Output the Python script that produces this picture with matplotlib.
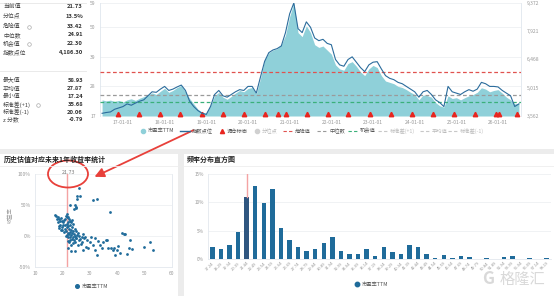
import matplotlib
matplotlib.use('Agg')
import matplotlib.pyplot as plt
from matplotlib.patches import Ellipse, FancyArrowPatch, Rectangle
from matplotlib.lines import Line2D

plt.rcParams['font.family'] = ['Noto Sans CJK SC', 'DejaVu Sans']

W, H = 554, 296

# ---------------- data ----------------
stat_labels_1 = ['当前值', '分位点', '危险值', '中位数', '机会值', '指数点位']
stat_values_1 = ['21.73', '13.5%', '33.42', '24.91', '22.30', '4,186.30']
stat_labels_2 = ['最大值', '平均值', '最小值', '标准差(+1)', '标准差(-1)', 'z 分数']
stat_values_2 = ['58.93', '27.87', '17.24', '35.68', '20.06', '-0.79']

danger_value = 33.42
median_value = 24.91
chance_value = 22.30
current_value = 21.73

years = [2016.5, 2016.6, 2016.7, 2016.8, 2016.9,
         2017.0, 2017.1, 2017.2, 2017.3, 2017.4, 2017.5, 2017.6, 2017.7, 2017.8, 2017.9,
         2018.0, 2018.1, 2018.2, 2018.3, 2018.4, 2018.5, 2018.6, 2018.7, 2018.8, 2018.9,
         2019.0, 2019.1, 2019.2, 2019.3, 2019.4, 2019.5, 2019.6, 2019.7, 2019.8, 2019.9,
         2020.0, 2020.1, 2020.2, 2020.3, 2020.4, 2020.5, 2020.6, 2020.7, 2020.8, 2020.9,
         2021.0, 2021.1, 2021.2, 2021.3, 2021.4, 2021.5, 2021.6, 2021.7, 2021.8, 2021.9,
         2022.0, 2022.1, 2022.2, 2022.3, 2022.4, 2022.5, 2022.6, 2022.7, 2022.8, 2022.9,
         2023.0, 2023.1, 2023.2, 2023.3, 2023.4, 2023.5, 2023.6, 2023.7, 2023.8, 2023.9,
         2024.0, 2024.1, 2024.2, 2024.3, 2024.4, 2024.5, 2024.6, 2024.7, 2024.8, 2024.9,
         2025.0, 2025.1, 2025.2, 2025.3, 2025.4, 2025.5, 2025.6, 2025.7, 2025.8, 2025.9,
         2026.0, 2026.1, 2026.2, 2026.3, 2026.4, 2026.5]

pe_ttm = [23.0, 22.6, 22.9, 22.4, 22.8,
          22.2, 23.0, 23.4, 22.8, 23.6, 24.2, 24.8, 25.6, 25.0, 26.2,
          27.3, 25.8, 26.5, 27.6, 28.3, 26.0, 23.5, 21.5, 19.5, 18.4,
          18.0, 21.0, 24.5, 25.8, 24.0, 23.2, 24.3, 25.5, 26.5, 26.0,
          27.2, 27.6, 25.2, 31.0, 38.0, 40.5, 41.5, 42.0, 43.5, 47.0,
          54.0, 58.93, 48.0, 46.5, 50.5, 48.0, 43.5, 42.5, 43.0, 41.5,
          40.0, 36.0, 34.5, 34.0, 36.5, 37.2, 35.5, 33.4, 32.0, 34.5,
          35.8, 35.0, 32.0, 30.0, 29.5, 29.0, 28.0, 27.6, 26.8, 25.8,
          25.0, 23.0, 24.8, 24.6, 24.0, 22.0, 20.8, 20.3, 24.5, 23.5,
          23.8, 23.0, 23.8, 24.5, 25.0, 25.8, 27.5, 27.0, 26.0, 26.5,
          26.8, 25.5, 24.0, 23.0, 21.5, 21.73]

index_level = [3700, 3742, 3770, 3908, 3977,
               4046, 4184, 4115, 4226, 4323, 4392, 4600, 4807, 4780, 4945,
               5083, 4876, 4945, 5056, 5152, 4876, 4323, 4046, 3839, 3700,
               3645, 4046, 4668, 4876, 4600, 4530, 4668, 4807, 4917, 4876,
               5083, 5083, 4738, 5568, 6375, 6820, 6958, 7027, 7166, 7849,
               8817, 9370, 8056, 7849, 8402, 8126, 7573, 7435, 7504, 7296,
               7227, 6466, 6190, 6121, 6466, 6604, 6328, 6051, 5844, 6190,
               6328, 6356, 5982, 5637, 5499, 5430, 5291, 5222, 5083, 4945,
               4807, 4530, 4807, 4876, 4668, 4392, 4254, 4046, 5083, 4807,
               4738, 4668, 4807, 4917, 4835, 4945, 5291, 5222, 5083, 5083,
               5056, 4876, 4738, 4600, 4050, 4186]

rebalance_years = [2016.88, 2017.38, 2017.88, 2018.38, 2018.9, 2019.4, 2019.9,
                   2020.41, 2020.72, 2020.91, 2021.41, 2021.92, 2022.41, 2022.92,
                   2023.43, 2023.93, 2024.43, 2024.94, 2025.44, 2025.94, 2026.02, 2026.45]

year_ticks = [2017, 2018, 2019, 2020, 2021, 2022, 2023, 2024, 2025, 2026]
year_tick_labels = ['17-01-01', '18-01-01', '19-01-01', '20-01-01', '21-01-01',
                    '22-01-01', '23-01-01', '24-01-01', '25-01-01', '26-01-01']
left_ticks = [17, 28, 39, 50, 59]
right_ticks = [3562, 5015, 6468, 7921, 9372]
right_tick_labels = ['3,562', '5,015', '6,468', '7,921', '9,372']

scatter_pe = [17.2, 17.8, 18.3, 18.0, 18.8, 19.5, 19.0, 18.5, 19.8, 20.2,
              20.5, 21.0, 21.5, 21.2, 21.8, 22.0, 22.3, 22.6, 22.0, 21.6,
              21.0, 20.4, 19.7, 19.2, 18.9, 18.6, 20.0, 20.8, 21.3, 21.8,
              22.2, 22.5, 22.8, 23.1, 23.4, 23.0, 22.7, 22.4, 22.1, 21.7,
              21.4, 22.0, 22.6, 23.2, 23.6, 23.9, 24.2, 24.5, 24.8, 23.8,
              23.4, 22.9, 24.1, 24.6, 25.0, 25.4, 25.8, 26.2, 26.6, 27.0,
              27.5, 28.0, 24.0, 23.0, 22.3, 21.9, 20.5, 19.5, 23.5, 24.0,
              24.5, 25.1, 22.2, 23.3, 24.7, 25.6, 26.8, 27.7, 28.6, 29.5,
              30.1, 31.0, 31.8, 32.0, 32.6, 33.0, 33.8, 34.5, 35.0, 35.8,
              36.2, 36.8, 37.6, 38.4, 38.9, 39.3, 39.8, 40.2, 41.0, 41.7,
              42.3, 42.9, 43.5, 44.2, 44.8, 45.4, 49.6, 51.8, 53.1, 26.0,
              27.0, 28.3, 29.0, 30.6, 25.9, 25.2, 26.5, 25.5, 31.1, 32.8,
              22.8, 24.6, 24.4, 25.0, 24.8, 37.4]
scatter_ret = [34, 32, 30, 27, 28, 29, 25, 23, 24, 22,
               26, 27, 30, 33, 36, 31, 28, 25, 22, 20,
               18, 17, 15, 18, 13, 16, 10, 12, 8, 14,
               16, 12, 18, 22, 26, 10, 6, 3, 5, 2,
               0, -2, -1, 2, 5, 8, 3, 0, -3, -2,
               -5, -6, -7, -10, -4, 2, 5, 0, -5, -2,
               3, -4, -12, -14, -10, -8, 6, 9, 15, 20,
               12, 8, -20, -24, -24, -15, -13, -23, -17, -19,
               -10, -14, -22, -4, -31, -8, -15, -19, -9, -6,
               -7, -20, -19, -22, -20, -31, -23, -16, -28, 5,
               4, 4, -29, -20, -7, -21, -18, -9, -22, -6,
               -10, -1, -6, -2, 77, 64, 64, 59, 58, 59,
               50, 50, 44, 47, 45, 39]

hist_labels = ['17.24', '18.29', '19.34', '20.39', '21.44', '22.49', '23.54', '24.59',
               '25.64', '26.69', '27.74', '28.79', '29.84', '30.89', '31.94', '32.99',
               '34.04', '35.09', '36.14', '37.19', '38.24', '39.29', '40.34', '41.39',
               '42.44', '43.49', '44.54', '45.59', '46.64', '47.69', '48.74', '49.79',
               '50.84', '51.89', '52.94', '53.99', '55.04', '56.09', '57.14', '58.19']
hist_freq = [2.1, 1.8, 2.4, 4.8, 10.9, 12.8, 9.8, 12.4, 5.5, 3.4,
             2.1, 1.5, 1.8, 2.8, 3.8, 1.5, 0.9, 0.9, 1.8, 0.5,
             2.2, 1.2, 0.9, 2.5, 2.1, 0.9, 0.1, 0.7, 0.1, 0.5,
             0.3, 0.0, 0.1, 0.0, 0.3, 0.5, 0.0, 0.1, 0.0, 0.1]
current_bin = 4

# ---------------- styles ----------------
TEAL = '#8fd0d9'
NAVY = '#2b6c9c'
DOT = '#1f6b9a'
RED = '#e0524f'
GREY_TXT = '#999999'
GRID = '#eef0f3'

fig = plt.figure(figsize=(W / 100, H / 100), dpi=100)
fig.patch.set_facecolor('white')


def px_axes(l, t, r, b):
    return fig.add_axes([l / W, 1 - b / H, (r - l) / W, (b - t) / H])


def T(x, y, s, **kw):
    kw.setdefault('va', 'center')
    return fig.text(x / W, 1 - y / H, s, **kw)


def FL(x0, x1, y, **kw):
    fig.add_artist(Line2D([x0 / W, x1 / W], [1 - y / H, 1 - y / H],
                          transform=fig.transFigure, **kw))


# ---------------- left statistics table ----------------
FL(0, 86, 3, color='#e6e6e6', lw=0.6)
FL(0, 86, 71, color='#e6e6e6', lw=0.6)
ys1 = [6, 16, 26.5, 35, 43.5, 52.5]
ys2 = [80.5, 89, 96.5, 104.5, 112, 119.5]
for lab, val, y in zip(stat_labels_1 + stat_labels_2, stat_values_1 + stat_values_2, ys1 + ys2):
    T(3, y, lab, fontsize=4.2, color='#444444', ha='left')
    T(83, y, val, fontsize=4.2, color='#333333', ha='right', fontweight='bold')
for x, y in [(29, 26.5), (29, 43.5), (38, 104.5)]:
    fig.add_artist(Line2D([x / W], [1 - y / H], marker='o', markersize=2.6,
                          markerfacecolor='none', markeredgecolor='#aaaaaa',
                          markeredgewidth=0.5, transform=fig.transFigure))

# ---------------- top time-series chart ----------------
ax = px_axes(100, 3, 521, 116)
ax.fill_between(years, 17, pe_ttm, color=TEAL, lw=0, zorder=1)
ax.set_xlim(2016.45, 2026.55)
ax.set_ylim(17, 59)
for yv in left_ticks:
    ax.axhline(yv, color=GRID, lw=0.6, zorder=0)
ax.axhline(danger_value, color=RED, ls=(0, (3, 2)), lw=0.9, zorder=3)
ax.axhline(median_value, color='#9a9a9a', ls=(0, (3, 2)), lw=0.9, zorder=3)
ax.axhline(chance_value, color='#3bb07a', ls=(0, (3, 2)), lw=0.9, zorder=3)
ax.plot(rebalance_years, [17.9] * len(rebalance_years), ls='none', marker='^',
        markersize=3.2, color='#e8251f', zorder=5, clip_on=False)
ax.set_yticks(left_ticks)
ax.set_yticklabels([str(v) for v in left_ticks])
ax.set_xticks(year_ticks)
ax.set_xticklabels(year_tick_labels)
ax.tick_params(axis='both', length=0, labelsize=3.6, colors=GREY_TXT, pad=3)
for s in ['top', 'bottom']:
    ax.spines[s].set_visible(False)
for s in ['left', 'right']:
    ax.spines[s].set_color('#dfe6ee')
    ax.spines[s].set_linewidth(0.6)
ax.patch.set_alpha(0)

ax2 = ax.twinx()
ax2.plot(years, index_level, color=NAVY, lw=0.8, zorder=4)
ax2.set_ylim(3562, 9372)
ax2.set_yticks(right_ticks)
ax2.set_yticklabels(right_tick_labels)
ax2.tick_params(axis='y', length=0, labelsize=3.6, colors=GREY_TXT, pad=4)
for s in ['top', 'bottom', 'left', 'right']:
    ax2.spines[s].set_visible(False)

# legend row
ly = 131
LFS = 3.8
fig.add_artist(Line2D([143 / W], [1 - ly / H], marker='o', markersize=3, color=TEAL,
                      transform=fig.transFigure))
T(148, ly, '市盈率TTM', fontsize=LFS, color='#555555')
FL(180, 190, ly, color=NAVY, lw=1)
T(192, ly, '指数点位', fontsize=LFS, color='#555555')
fig.add_artist(Line2D([222 / W], [1 - ly / H], marker='^', markersize=3, color='#e8251f',
                      transform=fig.transFigure))
T(227, ly, '调仓标志', fontsize=LFS, color='#555555')
fig.add_artist(Line2D([257 / W], [1 - ly / H], marker='o', markersize=3, color='#d0d0d0',
                      transform=fig.transFigure))
T(262, ly, '分位点', fontsize=LFS, color='#bbbbbb')
leg_dash = [(283, RED, '危险值', '#555555'), (317, '#9a9a9a', '中位数', '#555555'),
            (348, '#3bb07a', '机会值', '#555555'), (378, '#c8c8c8', '标准差(+1)', '#bbbbbb'),
            (420, '#c8c8c8', '平均值', '#bbbbbb'), (448, '#c8c8c8', '标准差(-1)', '#bbbbbb')]
for x0, c, lab, tc in leg_dash:
    FL(x0, x0 + 10, ly, color=c, lw=0.8, ls=(0, (3, 2)))
    T(x0 + 12, ly, lab, fontsize=LFS, color=tc)

# ---------------- separators ----------------
fig.add_artist(Rectangle((0, 1 - 154 / H), 1, 5 / H, transform=fig.transFigure,
                         color='#ececec', lw=0))
fig.add_artist(Rectangle((178 / W, 0), 6 / W, 1 - 154 / H, transform=fig.transFigure,
                         color='#ececec', lw=0))
FL(0, 178, 166, color='#eeeeee', lw=0.6)
FL(184, 554, 166, color='#eeeeee', lw=0.6)
T(4, 159.5, '历史估值对应未来1年收益率统计', fontsize=5, fontweight='bold', color='#222222')
T(187, 159.5, '频率分布直方图', fontsize=5, fontweight='bold', color='#222222')

# ---------------- scatter ----------------
axs = px_axes(35, 174, 172, 267)
axs.scatter(scatter_pe, scatter_ret, s=4, color=DOT, lw=0, zorder=3)
axs.axvline(current_value, color='#f4a3a3', lw=1, zorder=2)
axs.set_xlim(10, 60)
axs.set_ylim(-50, 100)
axs.set_yticks([-50, 0, 50, 100])
axs.set_yticklabels(['-50%', '0%', '50%', '100%'])
axs.set_xticks([10, 20, 30, 40, 50, 60])
for yv in [0, 50, 100]:
    axs.axhline(yv, color=GRID, lw=0.6, zorder=0)
axs.tick_params(axis='both', length=0, labelsize=3.6, colors=GREY_TXT, pad=3)
for s in ['top']:
    axs.spines[s].set_visible(False)
for s in ['left', 'bottom', 'right']:
    axs.spines[s].set_color('#e3e8ee')
    axs.spines[s].set_linewidth(0.6)
T(10, 215, '收益率', fontsize=3.8, color=GREY_TXT, rotation=90, ha='center')
T(68, 172, '21.73', fontsize=3.8, color='#777777', ha='center')
fig.add_artist(Line2D([77 / W], [1 - 286 / H], marker='o', markersize=2.6, color=DOT,
                      transform=fig.transFigure))
T(82, 286, '市盈率TTM', fontsize=3.8, color='#555555')

# ---------------- histogram ----------------
axh = px_axes(208, 174, 551, 259)
xs = list(range(len(hist_freq)))
axh.bar(xs, hist_freq, width=0.52, color=DOT, zorder=3)
axh.plot([current_bin, current_bin], [hist_freq[current_bin], 15], color='#f4a3a3',
         lw=1, zorder=4)
axh.bar([current_bin], [hist_freq[current_bin]], width=0.52, color='#2f5680', zorder=3)
axh.set_xlim(-0.5, len(hist_freq) - 0.5)
axh.set_ylim(0, 15)
axh.set_yticks([0, 5, 10, 15])
axh.set_yticklabels(['0%', '5%', '10%', '15%'])
axh.set_xticks(xs)
axh.set_xticklabels(hist_labels, rotation=45, ha='right', rotation_mode='anchor')
for yv in [5, 10, 15]:
    axh.axhline(yv, color=GRID, lw=0.6, zorder=0)
axh.tick_params(axis='y', length=0, labelsize=3.4, colors=GREY_TXT, pad=3)
axh.tick_params(axis='x', length=0, labelsize=3.0, colors=GREY_TXT, pad=1.5)
for s in ['top', 'right']:
    axh.spines[s].set_visible(False)
for s in ['left', 'bottom']:
    axh.spines[s].set_color('#e3e8ee')
    axh.spines[s].set_linewidth(0.6)
fig.add_artist(Line2D([357 / W], [1 - 284 / H], marker='o', markersize=3.2, color=DOT,
                      transform=fig.transFigure))
T(362, 284, '市盈率TTM', fontsize=3.8, color='#555555')

# watermark
T(482, 279, 'G', fontsize=12, color='#d9d9d9', fontweight='bold')
T(500, 279, '格隆汇', fontsize=11, color='#d9d9d9')

# ---------------- annotation (circle + arrow) ----------------
fig.add_artist(Ellipse((68 / W, 1 - 174 / H), 40 / W, 27 / H, transform=fig.transFigure,
                       fill=False, ec='#e8403a', lw=1.3))
fig.add_artist(FancyArrowPatch((196 / W, 1 - 129 / H), (92 / W, 1 - 178 / H),
                               transform=fig.transFigure, arrowstyle='-|>',
                               mutation_scale=14, color='#e8403a', lw=1.3))

fig.savefig('out.png', dpi=100, facecolor='white')
